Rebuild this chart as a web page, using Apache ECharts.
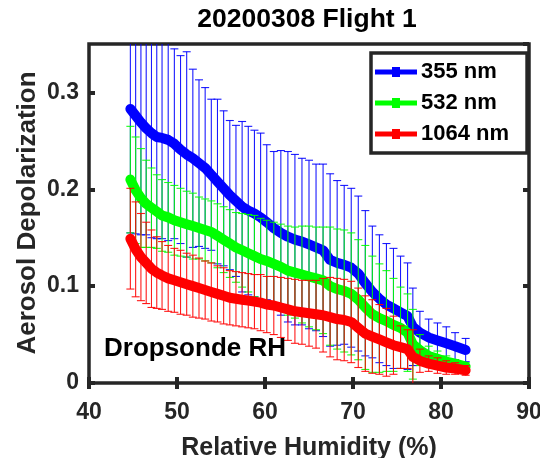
<!DOCTYPE html>
<html>
<head>
<meta charset="utf-8">
<script src="https://cdn.jsdelivr.net/npm/echarts@6/dist/echarts.min.js"></script>
<style>
html,body{margin:0;padding:0;background:#fff;overflow:hidden;}
#chart{width:540px;height:458px;}
</style>
</head>
<body>
<div id="chart"></div>
<script>
// Relative humidity (%) – x positions
const rh = [44.7,45.3,45.9,46.5,47.1,47.7,48.3,49.0,49.7,50.4,51.1,51.8,52.5,53.2,53.9,54.6,55.3,56.0,56.7,57.4,58.1,58.8,59.5,60.2,61.0,61.8,62.6,63.4,64.2,65.0,65.8,66.6,67.4,68.2,69.0,69.8,70.6,71.4,72.2,73.0,73.8,74.6,75.4,76.2,76.8,77.6,78.6,79.6,80.6,81.6,82.8];

// 355 nm
const dep355 = [0.283,0.276,0.269,0.263,0.258,0.254,0.253,0.251,0.247,0.241,0.236,0.232,0.227,0.222,0.215,0.208,0.201,0.194,0.188,0.182,0.178,0.175,0.171,0.166,0.160,0.155,0.151,0.148,0.146,0.143,0.140,0.137,0.127,0.124,0.122,0.119,0.113,0.103,0.094,0.087,0.081,0.077,0.073,0.069,0.058,0.052,0.047,0.044,0.041,0.038,0.034];
const err355 = [0.128,0.122,0.116,0.110,0.108,0.105,0.104,0.104,0.098,0.097,0.106,0.092,0.086,0.083,0.078,0.085,0.080,0.077,0.078,0.088,0.087,0.086,0.087,0.080,0.079,0.085,0.088,0.088,0.086,0.087,0.086,0.089,0.089,0.085,0.082,0.082,0.080,0.075,0.068,0.066,0.063,0.062,0.058,0.055,0.040,0.022,0.019,0.018,0.017,0.014,0.012];

// 532 nm
const dep532 = [0.210,0.199,0.191,0.185,0.181,0.177,0.173,0.171,0.168,0.166,0.164,0.162,0.160,0.158,0.156,0.152,0.148,0.144,0.140,0.137,0.134,0.131,0.128,0.126,0.123,0.120,0.116,0.114,0.112,0.110,0.108,0.106,0.100,0.097,0.095,0.092,0.086,0.078,0.071,0.067,0.064,0.060,0.057,0.052,0.040,0.034,0.028,0.025,0.022,0.020,0.017];
const err532 = [0.055,0.055,0.051,0.045,0.041,0.038,0.037,0.036,0.036,0.035,0.034,0.034,0.032,0.032,0.032,0.033,0.034,0.035,0.036,0.038,0.040,0.042,0.042,0.042,0.043,0.044,0.046,0.047,0.050,0.052,0.053,0.055,0.061,0.062,0.063,0.063,0.062,0.064,0.060,0.056,0.052,0.048,0.042,0.040,0.036,0.016,0.010,0.008,0.006,0.004,0.004];

// 1064 nm
const dep1064 = [0.149,0.138,0.130,0.124,0.118,0.114,0.111,0.108,0.106,0.104,0.102,0.100,0.098,0.096,0.094,0.092,0.090,0.088,0.087,0.086,0.085,0.084,0.083,0.081,0.080,0.078,0.076,0.074,0.073,0.072,0.071,0.070,0.068,0.066,0.065,0.063,0.057,0.051,0.048,0.045,0.042,0.039,0.037,0.035,0.027,0.023,0.020,0.018,0.016,0.015,0.013];
const err1064 = [0.052,0.049,0.045,0.042,0.040,0.037,0.035,0.034,0.033,0.033,0.032,0.032,0.031,0.030,0.030,0.029,0.029,0.028,0.028,0.028,0.028,0.028,0.029,0.029,0.030,0.031,0.032,0.033,0.033,0.034,0.035,0.038,0.041,0.042,0.042,0.042,0.041,0.039,0.038,0.036,0.035,0.030,0.022,0.020,0.028,0.012,0.008,0.008,0.007,0.006,0.005];

const seriesNames = ['355 nm','532 nm','1064 nm'];
const seriesColors = ['#0000ff','#00ff00','#ff0000'];
const xTicks = [40,50,60,70,80,90];
const yTicks = [0,0.1,0.2,0.3];

const FONT = '"Liberation Sans", Arial, Helvetica, sans-serif';
const AX = '#262626';

const means = [dep355, dep532, dep1064];
const errs = [err355, err532, err1064];

function errRender(color){
  return function(params, api){
    const x = api.value(0), m = api.value(1), e = api.value(2);
    const t = api.coord([x, m + e]);
    const b = api.coord([x, m - e]);
    const w = 4;
    const st = {stroke: color, lineWidth: 1.1, opacity: 0.9};
    return {type:'group', children:[
      {type:'line', shape:{x1:t[0], y1:t[1], x2:b[0], y2:b[1]}, style: st},
      {type:'line', shape:{x1:t[0]-w, y1:t[1], x2:t[0]+w, y2:t[1]}, style: st},
      {type:'line', shape:{x1:b[0]-w, y1:b[1], x2:b[0]+w, y2:b[1]}, style: st}
    ]};
  };
}

const series = [];
for (let s = 0; s < 3; s++) {
  const errData = rh.map((x,i)=>[x, means[s][i], errs[s][i]]);
  series.push({
    name: seriesNames[s] + ' err', type:'custom', clip:true, z: 2 + s*2,
    renderItem: errRender(seriesColors[s]),
    encode:{x:0, y:1}, data: errData, silent:true
  });
  series.push({
    name: seriesNames[s], type:'line', z: 3 + s*2,
    data: rh.map((x,i)=>[x, means[s][i]]),
    showSymbol:false, symbol:'rect', symbolSize:8,
    color: seriesColors[s],
    lineStyle:{width:10, color: seriesColors[s], cap:'round', join:'round'},
    emphasis:{disabled:true}
  });
}

const chart = echarts.init(document.getElementById('chart'), null, {renderer:'canvas'});
chart.setOption({
  animation:false,
  backgroundColor:'#fff',
  grid:{left:89, right:11, top:44, bottom:75, show:true, borderColor:AX, borderWidth:3.5, backgroundColor:'transparent', outerBoundsMode:'none', containLabel:false},
  xAxis:[{
    type:'value', min:xTicks[0], max:xTicks[xTicks.length-1], interval:10,
    axisLine:{show:false}, splitLine:{show:false},
    axisTick:{show:true, inside:true, length:6, lineStyle:{color:AX, width:4}},
    axisLabel:{color:AX, fontFamily:FONT, fontWeight:'bold', fontSize:23, margin:18,
      formatter:(v)=> xTicks.indexOf(v) >= 0 ? String(v) : ''},
    name:'Relative Humidity (%)', nameLocation:'middle', nameGap:53,
    nameTextStyle:{color:AX, fontFamily:FONT, fontWeight:'bold', fontSize:25}
  },{
    type:'value', position:'top', min:xTicks[0], max:xTicks[xTicks.length-1], interval:10,
    axisLine:{show:false}, splitLine:{show:false}, axisLabel:{show:false},
    axisTick:{show:true, inside:true, length:6, lineStyle:{color:AX, width:4}}
  }],
  yAxis:[{
    type:'value', min:0, max:0.35, interval:0.1,
    axisLine:{show:false}, splitLine:{show:false},
    axisTick:{show:true, inside:true, length:6, lineStyle:{color:AX, width:4}},
    axisLabel:{color:AX, fontFamily:FONT, fontWeight:'bold', fontSize:23, margin:10, showMaxLabel:false,
      formatter:(v)=>{ const k = yTicks.findIndex(t=>Math.abs(t-v)<1e-9); return k>=0 ? String(yTicks[k]) : ''; }}
  },{
    type:'value', position:'right', min:0, max:0.35, interval:0.1,
    axisLine:{show:false}, splitLine:{show:false}, axisLabel:{show:false},
    axisTick:{show:true, inside:true, length:6, lineStyle:{color:AX, width:4}}
  }],
  legend:{
    data: seriesNames,
    orient:'vertical', left:371, top:53,
    padding:[8,18,8,4], itemGap:9,
    itemWidth:42, itemHeight:10,
    icon:'path://M0,2.5h42v5H0z M17,0h8v10h-8z',
    backgroundColor:'#fff', borderColor:AX, borderWidth:3.5, borderRadius:0,
    textStyle:{color:'#000', fontFamily:FONT, fontWeight:'bold', fontSize:22, lineHeight:22, padding:[0,0,0,-1]},
    selectedMode:false
  },
  graphic:[
    {type:'text', z:100,
      style:{text:'20200308 Flight 1', x:307, y:6, fill:'#000', font:'bold 26.5px ' + FONT, textAlign:'center', textVerticalAlign:'top'}},
    {type:'text', z:100,
      style:{text:'Dropsonde RH', x:104, y:349, fill:'#000', font:'bold 26px ' + FONT, textAlign:'left', textVerticalAlign:'middle'}},
    {type:'text', z:100, x:28, y:213, rotation:Math.PI/2,
      style:{text:'Aerosol Depolarization', x:0, y:0, fill:AX, font:'bold 26px ' + FONT, textAlign:'center', textVerticalAlign:'middle'}}
  ],
  series: series
});
</script>
</body>
</html>
